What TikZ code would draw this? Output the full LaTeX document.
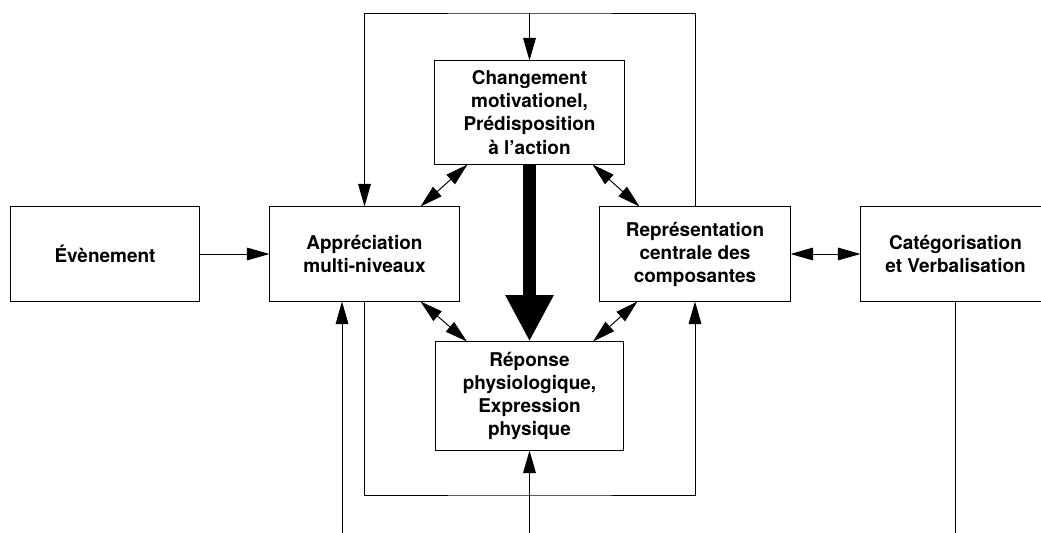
\documentclass[tikz,border=0pt]{standalone}
\usepackage{fontspec}
\setmainfont{TeX Gyre Heros}
\usetikzlibrary{arrows.meta,calc}
\tikzset{
	bloc/.style={draw, line width=0.7pt, align=center, inner sep=0pt, font=\fontsize{13.5}{16.4}\selectfont\bfseries},
	fil/.style={line width=0.7pt},
	fleche/.style={fil, -{Triangle[length=16pt,width=9pt]}},
	double fleche/.style={fil, {Triangle[length=16pt,width=9pt]}-{Triangle[length=16pt,width=9pt]}}
}

\begin{document}
\begin{tikzpicture}[x=0.025cm, y=-0.025cm]
		%%%%% START %%%%%
		\useasboundingbox (0,0) rectangle (1041,533);
		
		\node[bloc, minimum width=4.7cm, minimum height=2.35cm] (evenement) at (105,254) {Évènement};
		\node[bloc, minimum width=4.725cm, minimum height=2.35cm] (appreciation) at (364.5,254) {Appréciation\\multi-niveaux};
		\node[bloc, minimum width=4.725cm, minimum height=2.575cm] (changement) at (529.5,112.5) {Changement\\motivationel,\\Prédisposition\\à l’action};
		\node[bloc, minimum width=4.75cm, minimum height=2.35cm] (representation) at (695,254) {Représentation\\centrale des\\composantes};
		\node[bloc, minimum width=4.7cm, minimum height=2.7cm] (reponse) at (529.5,396) {Réponse\\physiologique,\\Expression\\physique};
		\node[bloc, minimum width=4.725cm, minimum height=2.35cm] (categorisation) at (955.5,254) {Catégorisation\\et Verbalisation};
		
		\coordinate (haut) at (529.5,13);
		\coordinate (bas) at (529.5,495);
		\coordinate (entreeA) at (342,540);
		\coordinate (entreeR) at (529.5,540);
		
		\draw[fleche] (evenement) -- (appreciation);
		\draw[double fleche] (representation) -- (categorisation);
		
		\draw[fleche] (representation.north) |- (haut) -| (appreciation.north);
		\draw[fleche] (haut) -- (changement.north);
		\draw[fleche] (appreciation.south) |- (bas) -| (representation.south);
		
		\draw[double fleche] ($(changement.south west)+(33,0)$) -- ($(appreciation.north east)+(-39,0)$);
		\draw[double fleche] ($(changement.south east)+(-32,0)$) -- ($(representation.north west)+(40,0)$);
		\draw[double fleche] ($(appreciation.south east)+(-39,0)$) -- ($(reponse.north west)+(32,0)$);
		\draw[double fleche] ($(representation.south west)+(38,0)$) -- ($(reponse.north east)+(-31,0)$);
		
		\draw[line width=9pt, -{Triangle[length=33pt,width=32pt]}] (changement.south) -- (reponse.north);
		
		\draw[fleche] (entreeA) -- (entreeA |- appreciation.south);
		\draw[fleche] (entreeR) -- (reponse.south);
		\draw[fil] (categorisation.south) -- (categorisation.south |- entreeR);
		
		%%%%% END %%%%%
\end{tikzpicture}
\end{document}
